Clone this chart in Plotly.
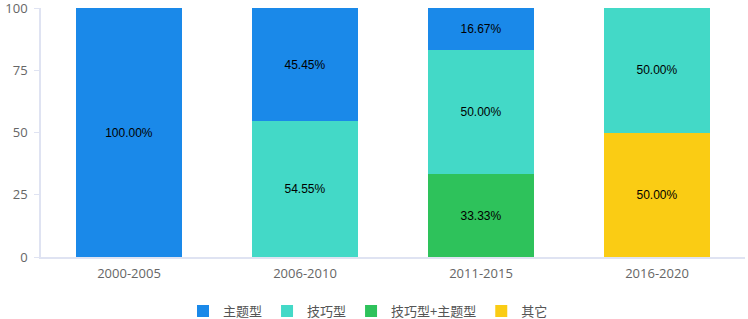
import plotly.graph_objects as go

categories = ["2000-2005", "2006-2010", "2011-2015", "2016-2020"]
series_names = ["主题型", "技巧型", "技巧型+主题型", "其它"]
zhuti = [100.00, 45.45, 16.67, 0]
jiqiao = [0, 54.55, 50.00, 50.00]
jiqiao_zhuti = [0, 0, 33.33, 0]
qita = [0, 0, 0, 50.00]
colors = ["#1a89e9", "#43d9c7", "#2ec25b", "#facc14"]
y_ticks = [0, 25, 50, 75, 100]

values = [zhuti, jiqiao, jiqiao_zhuti, qita]

fig = go.Figure()
# bottom of stack first
for name, vals, col in reversed(list(zip(series_names, values, colors))):
    fig.add_trace(go.Bar(
        x=categories, y=vals, name=name,
        marker=dict(color=col, line=dict(width=0)),
        text=[f"{v:.2f}%" if v > 0 else "" for v in vals],
        textposition="inside", insidetextanchor="middle",
        textfont=dict(color="#000000", size=12, family="Liberation Sans, Arial"),
        hoverinfo="x+y+name",
    ))

fig.update_layout(
    barmode="stack",
    bargap=0.4,
    width=748, height=319,
    margin=dict(l=41, r=3, t=8, b=62, autoexpand=False),
    plot_bgcolor="white", paper_bgcolor="white",
    font=dict(family="Noto Sans CJK SC, Open Sans, sans-serif", color="#666666", size=12),
    uniformtext=dict(minsize=12, mode="show"),
    legend=dict(orientation="h", xref="container", yref="container",
                x=0.492, xanchor="center", y=0.025, yanchor="middle",
                traceorder="reversed", font=dict(size=13, color="#555555"),
                itemwidth=30),
    showlegend=True,
)
fig.update_yaxes(range=[0, 100.02], tickvals=y_ticks, showgrid=False, zeroline=False,
                 showline=True, linecolor="#dfe3f2", linewidth=1.5,
                 ticks="outside", ticklen=5, tickcolor="#dfe3f2",
                 ticklabelstandoff=4, ticklabeloverflow="allow",
                 tickfont=dict(size=13, color="#666666", family="Open Sans, sans-serif"))
fig.update_xaxes(showgrid=False, showline=True, linecolor="#dfe3f2", linewidth=1.5,
                 ticks="", ticklabelstandoff=4,
                 tickfont=dict(size=13, color="#666666", family="Open Sans, sans-serif"))

fig.write_html("out.html", config={"displayModeBar": False},
               post_script="document.body.style.margin='0';")
